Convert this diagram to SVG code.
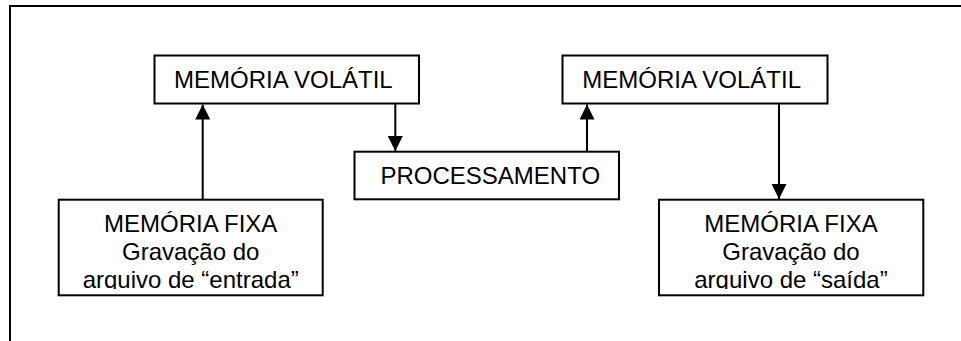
<svg xmlns="http://www.w3.org/2000/svg" width="961" height="341" viewBox="0 0 961 341">
<style>
.box{fill:#fff;stroke:#000;stroke-width:2}
.frame{fill:none;stroke:#000;stroke-width:2}
.lbl{font-family:"Liberation Sans",Arial,sans-serif;font-size:24px;fill:#000}
.c{text-anchor:middle}
.conn{stroke:#000;stroke-width:2;fill:none}
</style>
<defs>
<marker id="ah" markerWidth="15" markerHeight="15" viewBox="0 0 15 15" refX="15" refY="7.5" orient="auto" markerUnits="userSpaceOnUse">
<path d="M0,0 L15,7.5 L0,15 Z" fill="#000"/>
</marker>
<clipPath id="clipL"><rect x="59" y="200" width="263" height="89"/></clipPath>
<clipPath id="clipR"><rect x="659" y="200" width="264" height="89"/></clipPath>
</defs>
<rect class="frame" x="10" y="6" width="960" height="345"/>
<g id="connectors">
<line class="conn" x1="202.7" y1="199" x2="202.7" y2="104.5" marker-end="url(#ah)"/>
<line class="conn" x1="395.3" y1="103.5" x2="395.3" y2="151" marker-end="url(#ah)"/>
<line class="conn" x1="587" y1="151.7" x2="587" y2="104.5" marker-end="url(#ah)"/>
<line class="conn" x1="779" y1="103.5" x2="779" y2="199" marker-end="url(#ah)"/>
</g>
<g id="volatil1">
<rect class="box" x="154.5" y="55.5" width="264.5" height="48"/>
<text class="lbl" x="174" y="88">MEMÓRIA VOLÁTIL</text>
</g>
<g id="volatil2">
<rect class="box" x="562.5" y="55.5" width="265" height="48"/>
<text class="lbl" x="582.3" y="88">MEMÓRIA VOLÁTIL</text>
</g>
<g id="processamento">
<rect class="box" x="354.5" y="151.7" width="264.5" height="47.6"/>
<text class="lbl" x="380.5" y="184">PROCESSAMENTO</text>
</g>
<g id="fixa1">
<rect class="box" x="58.7" y="199.7" width="264" height="95.6"/>
<g clip-path="url(#clipL)">
<text class="lbl c" x="190.7" y="232">MEMÓRIA FIXA</text>
<text class="lbl c" x="190.7" y="260">Gravação do</text>
<text class="lbl c" x="190.7" y="288">arquivo de “entrada”</text>
</g>
</g>
<g id="fixa2">
<rect class="box" x="659" y="199.7" width="264.3" height="95.6"/>
<g clip-path="url(#clipR)">
<text class="lbl c" x="791" y="232">MEMÓRIA FIXA</text>
<text class="lbl c" x="791" y="260">Gravação do</text>
<text class="lbl c" x="791" y="288">arquivo de “saída”</text>
</g>
</g>
</svg>
